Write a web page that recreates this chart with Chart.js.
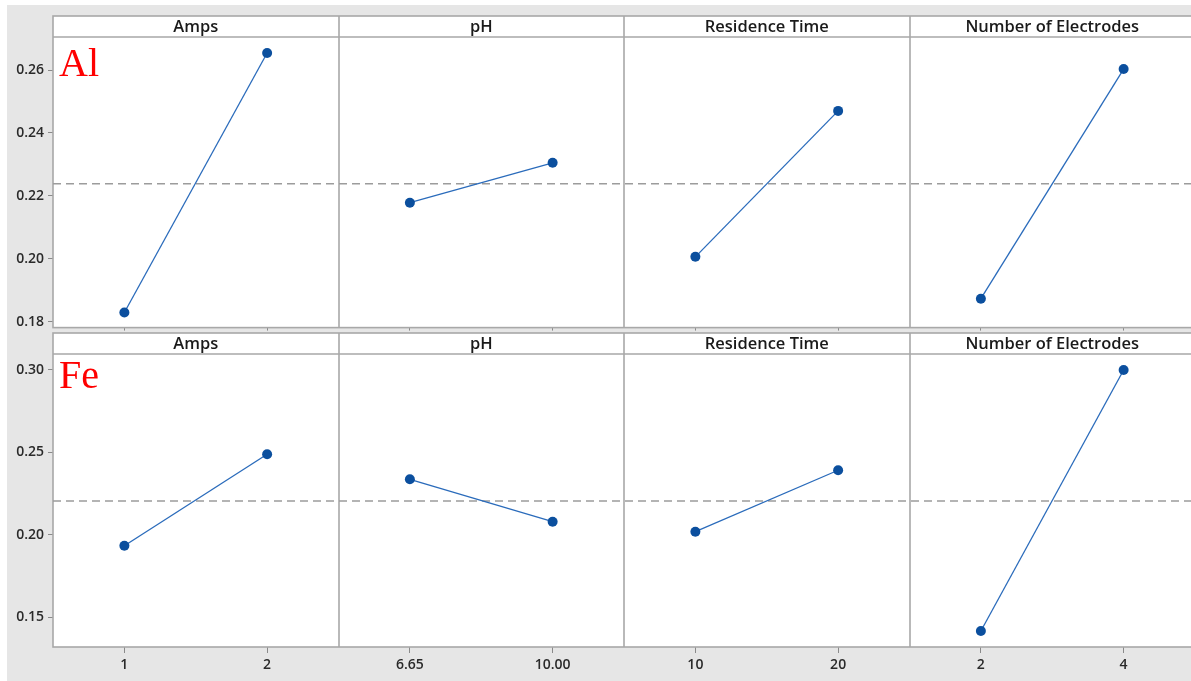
<!DOCTYPE html>
<html>
<head>
<meta charset="utf-8">
<script src="https://cdn.jsdelivr.net/npm/chart.js@4.4.1/dist/chart.umd.min.js"></script>
<style>
html, body { margin: 0; padding: 0; background: #fff; overflow: hidden; width: 1191px; height: 681px; }
#bg { position: absolute; left: 7px; top: 5px; width: 1200px; height: 690px; background: #e6e6e6; }
canvas { position: absolute; left: 0; }
#topChart { top: 0; }
#bottomChart { top: 332px; }
</style>
</head>
<body>
<div id="bg"></div>
<canvas id="topChart" width="1200" height="340"></canvas>
<canvas id="bottomChart" width="1200" height="349"></canvas>
<script>
// factors and their two levels
const factors = ['Amps', 'pH', 'Residence Time', 'Number of Electrodes'];
const levelLabels = [['1', '2'], ['6.65', '10.00'], ['10', '20'], ['2', '4']];

// level means
const alMeans = [[0.1829, 0.2654], [0.2178, 0.2305], [0.2006, 0.2470], [0.1873, 0.2603]];
const feMeans = [[0.1933, 0.2488], [0.2336, 0.2079], [0.2018, 0.2391], [0.1415, 0.3000]];
const alGrand = 0.2238;
const feGrand = 0.2205;

const alTicks = [0.18, 0.20, 0.22, 0.24, 0.26];
const feTicks = [0.15, 0.20, 0.25, 0.30];

const lineColor = '#2a6bbb';
const pointColor = '#0b4f9e';
const frameColor = '#a8a8a8';
const tickFont = { family: 'Open Sans', size: 14, weight: '600' };

// each factor panel takes 2 units on x, levels sit at +0.5 and +1.5
const levelPos = factors.flatMap((f, i) => [2 * i + 0.5, 2 * i + 1.5]);

const panelPlugin = {
    id: 'panels',
    beforeDatasetsDraw(chart, args, opts) {
        const { ctx, chartArea: a, scales: { x } } = chart;
        const stripTop = a.top - opts.stripH;
        ctx.save();
        ctx.fillStyle = '#fff';
        ctx.fillRect(a.left, stripTop, a.right - a.left, a.bottom - stripTop);
        ctx.strokeStyle = frameColor;
        ctx.lineWidth = 1.6;
        ctx.strokeRect(a.left, stripTop, a.right - a.left, a.bottom - stripTop);
        ctx.beginPath();
        ctx.moveTo(a.left, a.top);
        ctx.lineTo(a.right, a.top);
        for (let i = 1; i < factors.length; i++) {
            const px = Math.round(x.getPixelForValue(2 * i));
            ctx.moveTo(px, stripTop);
            ctx.lineTo(px, a.bottom);
        }
        ctx.stroke();
        ctx.fillStyle = '#1a1a1a';
        ctx.font = '600 16.5px "Open Sans"';
        ctx.textAlign = 'center';
        ctx.textBaseline = 'middle';
        factors.forEach((f, i) => {
            ctx.fillText(f, x.getPixelForValue(2 * i + 1), stripTop + opts.stripH / 2 + 0.5);
        });
        ctx.restore();
    },
    afterDatasetsDraw(chart, args, opts) {
        const { ctx, chartArea: a } = chart;
        ctx.save();
        ctx.fillStyle = '#ff0000';
        ctx.font = '40px "Liberation Serif"';
        ctx.textAlign = 'left';
        ctx.textBaseline = 'alphabetic';
        ctx.fillText(opts.label, a.left + 6, a.top + opts.labelY);
        ctx.restore();
    }
};

function makeChart(id, means, grand, ticks, yMin, yMax, opts) {
    const datasets = means.map((m, i) => ({
        data: m.map((v, j) => ({ x: levelPos[2 * i + j], y: v })),
        borderColor: lineColor,
        borderWidth: 1.3,
        pointRadius: 5,
        pointBackgroundColor: pointColor,
        pointBorderWidth: 0,
        order: 0
    }));
    datasets.push({
        data: [{ x: 0, y: grand }, { x: 2 * factors.length, y: grand }],
        borderColor: '#9c9c9c',
        borderWidth: 1.5,
        borderDash: [8, 5],
        pointRadius: 0,
        order: 1
    });
    return new Chart(document.getElementById(id), {
        type: 'line',
        data: { datasets: datasets },
        options: {
            responsive: false,
            animation: false,
            layout: { padding: { top: opts.padTop, right: 3, left: 0, bottom: 0 } },
            plugins: {
                legend: { display: false },
                tooltip: { enabled: false },
                panels: { stripH: 21, label: opts.label, labelY: opts.labelY }
            },
            scales: {
                x: {
                    type: 'linear',
                    min: 0,
                    max: 2 * factors.length,
                    afterBuildTicks(s) { s.ticks = levelPos.map(v => ({ value: v })); },
                    afterFit(s) { s.height = opts.xHeight; },
                    grid: { drawOnChartArea: false, tickLength: opts.xTickLen, color: '#8a8a8a' },
                    border: { display: false },
                    ticks: {
                        display: opts.showX,
                        padding: 4,
                        color: '#2a2a2a',
                        font: tickFont,
                        maxRotation: 0,
                        autoSkip: false,
                        callback: (v, idx) => levelLabels[Math.floor(idx / 2)][idx % 2]
                    }
                },
                y: {
                    min: yMin,
                    max: yMax,
                    afterBuildTicks(s) { s.ticks = ticks.map(v => ({ value: v })); },
                    afterFit(s) { s.width = 53; },
                    grid: { drawOnChartArea: false, tickLength: 5, color: '#8a8a8a' },
                    border: { display: false },
                    ticks: {
                        padding: 4,
                        color: '#2a2a2a',
                        font: tickFont,
                        callback: v => v.toFixed(2)
                    }
                }
            }
        },
        plugins: [panelPlugin]
    });
}

makeChart('topChart', alMeans, alGrand, alTicks, 0.1781, 0.2705,
    { padTop: 37, xHeight: 12, xTickLen: 3, showX: false, label: 'Al', labelY: 39 });
makeChart('bottomChart', feMeans, feGrand, feTicks, 0.1318, 0.3097,
    { padTop: 22, xHeight: 34, xTickLen: 6, showX: true, label: 'Fe', labelY: 34 });
</script>
</body>
</html>
